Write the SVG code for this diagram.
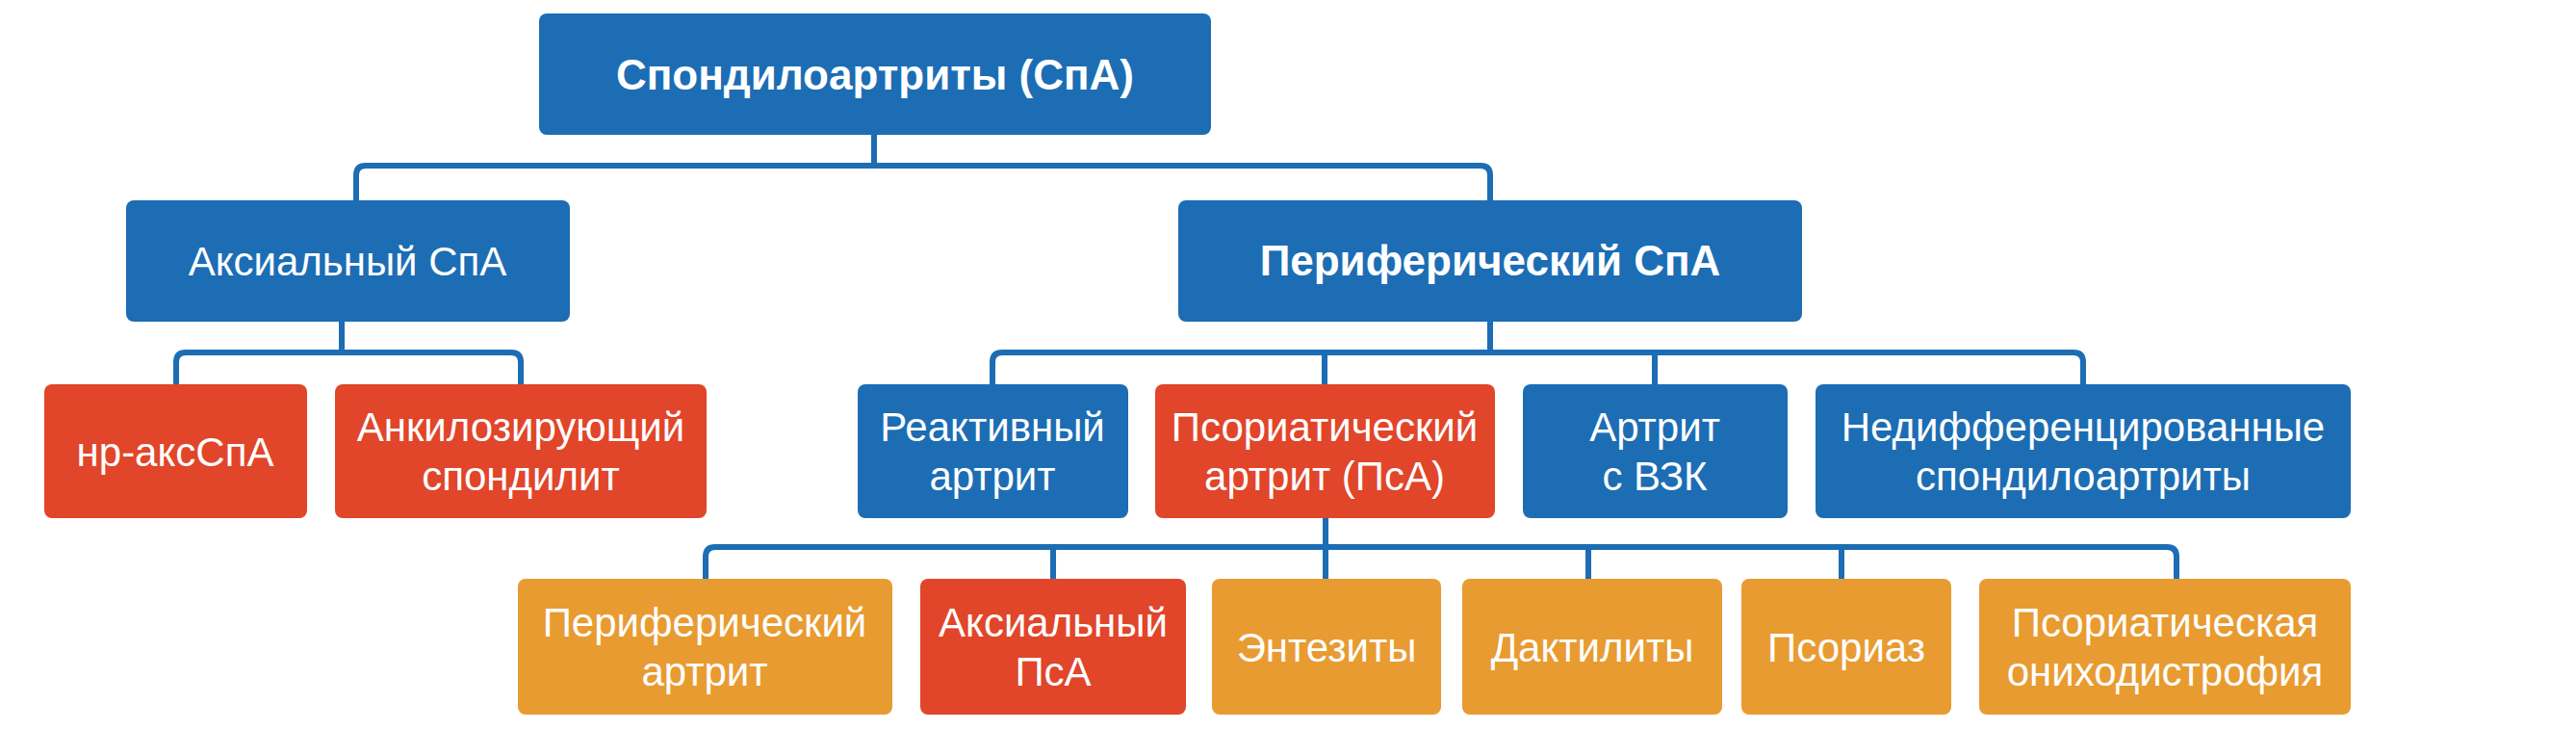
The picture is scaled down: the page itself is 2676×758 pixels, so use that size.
<svg xmlns="http://www.w3.org/2000/svg" width="2676" height="758" viewBox="0 0 2676 758">
<style>
.b{fill:#1c6db4}
.r{fill:#e1452a}
.o{fill:#e89b31}
text{font-family:"Liberation Sans",Arial,sans-serif;fill:#fff;text-anchor:middle;font-size:42px}
.bold{font-weight:bold;font-size:44px}
.c{fill:none;stroke:#1c6db4;stroke-width:6;stroke-linejoin:round}
</style>
<rect width="2676" height="758" fill="#fff"/>
<g id="connectors">
<path class="c" d="M908 140V172M370 208V182Q370 172 380 172H1538Q1548 172 1548 182V208"/>
<path class="c" d="M355 334V366M183 399V376Q183 366 193 366H531Q541 366 541 376V399"/>
<path class="c" d="M1548 334V366M1031 399V376Q1031 366 1041 366H2154Q2164 366 2164 376V399M1376 366V399M1719 366V399"/>
<path class="c" d="M1377 538V568M733 601V578Q733 568 743 568H2251Q2261 568 2261 578V601M1094 568V601M1377 568V601M1650 568V601M1913 568V601"/>
</g>
<g id="n_spa"><rect class="b" x="560" y="14" width="698" height="126" rx="8"/><text class="bold" x="909" y="93">Спондилоартриты (СпА)</text></g>
<g id="n_axial"><rect class="b" x="131" y="208" width="461" height="126" rx="8"/><text x="361" y="286">Аксиальный СпА</text></g>
<g id="n_periph"><rect class="b" x="1224" y="208" width="648" height="126" rx="8"/><text class="bold" x="1548" y="286">Периферический СпА</text></g>
<g id="n_nraxspa"><rect class="r" x="46" y="399" width="273" height="139" rx="8"/><text x="182" y="484">нр-аксСпА</text></g>
<g id="n_as"><rect class="r" x="348" y="399" width="386" height="139" rx="8"/><text x="541" y="458">Анкилозирующий</text><text x="541" y="509">спондилит</text></g>
<g id="n_react"><rect class="b" x="891" y="399" width="281" height="139" rx="8"/><text x="1031" y="458">Реактивный</text><text x="1031" y="509">артрит</text></g>
<g id="n_psa"><rect class="r" x="1200" y="399" width="353" height="139" rx="8"/><text x="1376" y="458">Псориатический</text><text x="1376" y="509">артрит (ПсА)</text></g>
<g id="n_ibd"><rect class="b" x="1582" y="399" width="275" height="139" rx="8"/><text x="1719" y="458">Артрит</text><text x="1719" y="509">с ВЗК</text></g>
<g id="n_undiff"><rect class="b" x="1886" y="399" width="556" height="139" rx="8"/><text x="2164" y="458">Недифференцированные</text><text x="2164" y="509">спондилоартриты</text></g>
<g id="n_periart"><rect class="o" x="538" y="601" width="389" height="141" rx="8"/><text x="732" y="661">Периферический</text><text x="732" y="712">артрит</text></g>
<g id="n_axpsa"><rect class="r" x="956" y="601" width="276" height="141" rx="8"/><text x="1094" y="661">Аксиальный</text><text x="1094" y="712">ПсА</text></g>
<g id="n_enth"><rect class="o" x="1259" y="601" width="238" height="141" rx="8"/><text x="1378" y="687">Энтезиты</text></g>
<g id="n_dact"><rect class="o" x="1519" y="601" width="270" height="141" rx="8"/><text x="1654" y="687">Дактилиты</text></g>
<g id="n_psor"><rect class="o" x="1809" y="601" width="218" height="141" rx="8"/><text x="1918" y="687">Псориаз</text></g>
<g id="n_nail"><rect class="o" x="2056" y="601" width="386" height="141" rx="8"/><text x="2249" y="661">Псориатическая</text><text x="2249" y="712">ониходистрофия</text></g>
</svg>
